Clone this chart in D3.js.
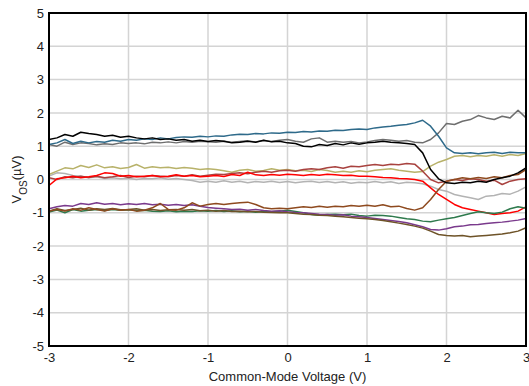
<!DOCTYPE html>
<html>
<head>
<meta charset="utf-8">
<script src="https://cdn.jsdelivr.net/npm/d3@7"></script>
<style>
  body { margin: 0; background: #fff; }
  svg { display: block; font-family: "Liberation Sans", Arial, sans-serif; }
</style>
</head>
<body>
<svg id="chart" width="529" height="386"></svg>
<script>
// common-mode voltage (V) sample points
const vcm = [-3.0,-2.9,-2.8,-2.7,-2.6,-2.5,-2.4,-2.3,-2.2,-2.1,-2.0,-1.9,-1.8,-1.7,-1.6,-1.5,-1.4,-1.3,-1.2,-1.1,
  -1.0,-0.9,-0.8,-0.7,-0.6,-0.5,-0.4,-0.3,-0.2,-0.1,0.0,0.1,0.2,0.3,0.4,0.5,0.6,0.7,0.8,0.9,
  1.0,1.1,1.2,1.3,1.4,1.5,1.6,1.7,1.8,1.9,2.0,2.1,2.2,2.3,2.4,2.5,2.6,2.7,2.8,2.9,3.0];

// offset voltage per unit (uV)
const teal = [1.05,1.1,1.2,1.08,1.15,1.1,1.14,1.12,1.18,1.15,1.2,1.18,1.22,1.2,1.25,1.22,1.26,1.28,1.27,1.3,
  1.28,1.31,1.3,1.34,1.36,1.35,1.38,1.37,1.4,1.39,1.42,1.41,1.44,1.43,1.46,1.45,1.48,1.47,1.5,1.52,
  1.5,1.55,1.58,1.6,1.63,1.65,1.7,1.78,1.6,1.3,0.95,0.8,0.78,0.8,0.77,0.8,0.82,0.78,0.82,0.8,0.8];
const black = [1.2,1.25,1.35,1.3,1.42,1.38,1.35,1.3,1.33,1.27,1.3,1.25,1.22,1.25,1.2,1.22,1.18,1.2,1.15,1.18,
  1.14,1.17,1.15,1.1,1.12,1.15,1.12,1.18,1.13,1.15,1.1,1.08,1.0,0.98,1.05,1.02,1.08,1.04,1.1,1.06,
  1.1,1.12,1.15,1.12,1.1,1.08,1.05,0.8,0.3,0.02,-0.1,-0.12,-0.08,-0.1,-0.05,-0.08,0.0,0.05,0.1,0.2,0.35];
const darkGray = [1.05,1.0,1.12,1.05,1.1,1.08,1.04,1.07,1.05,1.1,1.08,1.1,1.07,1.12,1.1,1.13,1.1,1.14,1.12,1.15,
  1.13,1.12,1.15,1.12,1.14,1.16,1.13,1.17,1.14,1.18,1.2,1.15,1.12,1.22,1.25,1.12,1.15,1.12,1.14,1.1,
  1.13,1.17,1.2,1.18,1.15,1.17,1.12,1.1,1.2,1.4,1.68,1.65,1.75,1.8,1.92,1.85,1.8,1.9,1.85,2.08,1.85];
const olive = [0.15,0.25,0.35,0.32,0.42,0.36,0.44,0.35,0.38,0.33,0.36,0.45,0.34,0.38,0.35,0.37,0.33,0.36,0.34,0.3,
  0.32,0.3,0.26,0.22,0.28,0.3,0.25,0.27,0.32,0.28,0.3,0.26,0.28,0.24,0.3,0.27,0.22,0.25,0.22,0.26,
  0.23,0.28,0.3,0.32,0.28,0.25,0.22,0.24,0.4,0.52,0.6,0.7,0.72,0.68,0.72,0.7,0.74,0.7,0.75,0.72,0.78];
const darkRed = [0.05,0.0,0.08,0.05,0.1,0.06,0.1,0.05,0.08,0.12,0.06,0.1,0.08,0.12,0.1,0.08,0.12,0.1,0.14,0.1,
  0.13,0.16,0.15,0.18,0.2,0.17,0.22,0.25,0.22,0.26,0.28,0.25,0.3,0.32,0.3,0.35,0.38,0.34,0.4,0.38,
  0.42,0.45,0.42,0.46,0.44,0.48,0.46,0.25,0.0,-0.1,-0.05,0.0,-0.03,0.02,0.0,-0.05,-0.02,-0.15,-0.05,0.0,0.02];
const red = [-0.18,0.02,0.05,0.1,0.05,0.08,0.12,0.2,0.18,0.1,0.12,0.08,0.1,0.12,0.08,0.1,0.14,0.1,0.12,0.08,
  0.1,0.12,0.09,0.15,0.12,0.22,0.14,0.12,0.15,0.13,0.16,0.14,0.12,0.15,0.13,0.16,0.14,0.12,0.13,0.1,
  0.1,0.08,0.06,0.05,0.03,0.02,0.0,-0.05,-0.25,-0.45,-0.6,-0.75,-0.85,-0.9,-0.95,-1.0,-1.05,-1.02,-1.0,-0.95,-0.82];
const lightGray = [0.1,0.2,0.18,0.12,0.1,0.05,0.08,0.03,0.05,0.02,0.04,0.0,0.03,0.02,0.05,0.01,0.03,0.0,-0.03,-0.08,
  -0.05,-0.08,-0.04,-0.08,-0.05,-0.1,-0.06,-0.08,-0.05,-0.09,-0.06,-0.1,-0.07,-0.05,-0.09,-0.06,-0.1,-0.07,-0.11,-0.08,
  -0.1,-0.06,-0.1,-0.07,-0.12,-0.08,-0.1,-0.13,-0.2,-0.3,-0.35,-0.45,-0.5,-0.55,-0.6,-0.5,-0.48,-0.42,-0.44,-0.35,-0.22];
const brown = [-0.95,-0.9,-0.95,-0.88,-0.92,-0.85,-0.9,-0.95,-0.88,-0.92,-0.9,-0.95,-0.92,-0.85,-0.72,-0.9,-0.92,-0.85,-0.7,-0.8,
  -0.75,-0.72,-0.75,-0.72,-0.7,-0.68,-0.75,-0.85,-0.88,-0.86,-0.88,-0.85,-0.82,-0.84,-0.8,-0.83,-0.8,-0.82,-0.78,-0.8,
  -0.77,-0.8,-0.76,-0.82,-0.8,-0.87,-0.92,-0.85,-0.6,-0.3,-0.05,0.0,0.05,0.02,0.06,0.03,0.08,0.05,0.12,0.15,0.3];
const purple = [-0.88,-0.82,-0.78,-0.8,-0.72,-0.75,-0.7,-0.74,-0.72,-0.76,-0.73,-0.75,-0.72,-0.76,-0.74,-0.77,-0.75,-0.78,-0.76,-0.8,
  -0.84,-0.86,-0.88,-0.9,-0.89,-0.92,-0.9,-0.93,-0.95,-0.94,-0.97,-0.99,-1.0,-1.02,-1.04,-1.05,-1.07,-1.06,-1.1,-1.12,
  -1.14,-1.17,-1.2,-1.23,-1.26,-1.3,-1.36,-1.42,-1.5,-1.52,-1.48,-1.42,-1.4,-1.36,-1.35,-1.32,-1.3,-1.28,-1.25,-1.22,-1.17];
const green = [-0.98,-0.92,-1.0,-0.9,-0.95,-0.92,-0.9,-0.93,-0.9,-0.92,-0.91,-0.93,-0.92,-0.95,-0.96,-0.94,-0.97,-0.95,-0.96,-0.94,
  -0.95,-0.93,-0.96,-0.94,-0.97,-0.95,-0.98,-0.96,-0.97,-0.95,-0.92,-0.96,-1.0,-1.05,-1.07,-1.05,-1.04,-1.06,-1.04,-1.08,
  -1.1,-1.07,-1.08,-1.1,-1.14,-1.18,-1.2,-1.25,-1.27,-1.22,-1.18,-1.14,-1.08,-1.02,-0.97,-1.0,-1.02,-0.98,-0.88,-0.82,-0.86];
const darkBrown = [-0.95,-0.88,-0.93,-0.9,-0.86,-0.92,-0.88,-0.9,-0.87,-0.91,-0.9,-0.88,-0.92,-0.9,-0.93,-0.91,-0.9,-0.92,-0.9,-0.94,
  -0.92,-0.95,-0.93,-0.96,-0.95,-0.97,-0.96,-0.98,-0.99,-1.0,-1.0,-1.02,-1.04,-1.05,-1.07,-1.08,-1.1,-1.12,-1.14,-1.16,
  -1.18,-1.2,-1.23,-1.27,-1.31,-1.35,-1.4,-1.46,-1.55,-1.65,-1.68,-1.7,-1.68,-1.72,-1.7,-1.68,-1.66,-1.64,-1.6,-1.55,-1.45];

const series = [
  { values: lightGray, color: "#b3b3b3" },
  { values: olive, color: "#b8b26a" },
  { values: darkRed, color: "#a8423f" },
  { values: red, color: "#ff0000" },
  { values: green, color: "#2e7a4d" },
  { values: purple, color: "#7a3a8c" },
  { values: darkBrown, color: "#6e5328" },
  { values: brown, color: "#8e4a1f" },
  { values: darkGray, color: "#6e6e6e" },
  { values: teal, color: "#2e6a8a" },
  { values: black, color: "#000000" }
];

const xTicks = [-3, -2, -1, 0, 1, 2, 3];
const yTicks = [-5, -4, -3, -2, -1, 0, 1, 2, 3, 4, 5];

(function () {
  const svg = d3.select("#chart");
  const mLeft = 49, mRight = 526, mTop = 13, mBottom = 346;

  const x = d3.scaleLinear().domain([-3, 3]).range([mLeft, mRight]);
  const y = d3.scaleLinear().domain([-5, 5]).range([mBottom, mTop]);

  // grid
  svg.append("g")
    .selectAll("line")
    .data(xTicks)
    .join("line")
    .attr("x1", d => x(d)).attr("x2", d => x(d))
    .attr("y1", mTop).attr("y2", mBottom)
    .attr("stroke", "#d4d4d4").attr("stroke-width", 1.5);
  svg.append("g")
    .selectAll("line")
    .data(yTicks)
    .join("line")
    .attr("x1", mLeft).attr("x2", mRight)
    .attr("y1", d => y(d)).attr("y2", d => y(d))
    .attr("stroke", "#d4d4d4").attr("stroke-width", 1.5);

  // data lines
  const line = d3.line()
    .x((d, i) => x(vcm[i]))
    .y(d => y(d));

  svg.append("g")
    .selectAll("path")
    .data(series)
    .join("path")
    .attr("d", d => line(d.values))
    .attr("fill", "none")
    .attr("stroke", d => d.color)
    .attr("stroke-width", 1.5)
    .attr("stroke-linejoin", "round");

  // frame
  svg.append("rect")
    .attr("x", mLeft).attr("y", mTop)
    .attr("width", mRight - mLeft).attr("height", mBottom - mTop)
    .attr("fill", "none").attr("stroke", "#000").attr("stroke-width", 2);

  // axes (labels only) - plain hyphen for negatives like the source
  const fmt = d => String(d);
  const xAxis = d3.axisBottom(x).tickValues(xTicks).tickSize(0).tickPadding(7).tickFormat(fmt);
  const yAxis = d3.axisLeft(y).tickValues(yTicks).tickSize(0).tickPadding(5).tickFormat(fmt);

  const gx = svg.append("g").attr("transform", `translate(0,${mBottom})`).call(xAxis);
  const gy = svg.append("g").attr("transform", `translate(${mLeft},0)`).call(yAxis);
  [gx, gy].forEach(g => {
    g.select(".domain").remove();
    g.selectAll("text").attr("font-size", 13).attr("fill", "#222").attr("font-family", "Liberation Sans, Arial, sans-serif");
  });

  svg.append("text")
    .attr("x", (mLeft + mRight) / 2).attr("y", 381)
    .attr("text-anchor", "middle")
    .attr("font-size", 13).attr("fill", "#222")
    .text("Common-Mode Voltage (V)");

  const yl = svg.append("text")
    .attr("transform", `translate(21,${(mTop + mBottom) / 2}) rotate(-90)`)
    .attr("text-anchor", "middle")
    .attr("font-size", 13).attr("fill", "#222");
  yl.append("tspan").text("V");
  yl.append("tspan").attr("baseline-shift", "sub").attr("font-size", 10).text("OS");
  yl.append("tspan").text("(µV)");
})();
</script>
</body>
</html>
